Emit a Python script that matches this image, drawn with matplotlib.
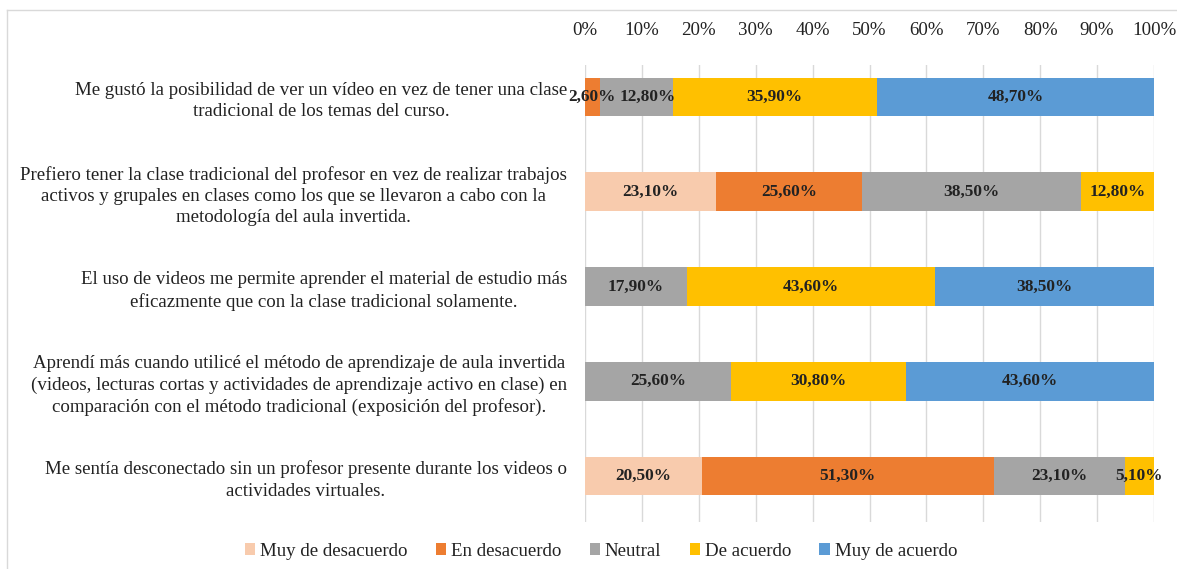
import matplotlib
matplotlib.use("Agg")
import matplotlib.pyplot as plt
from matplotlib.lines import Line2D
from matplotlib.transforms import offset_copy
import numpy as np

categories = [
    "Me gustó la posibilidad de ver un vídeo en vez de tener una clase\ntradicional de los temas del curso.",
    "Prefiero tener la clase tradicional del profesor en vez de realizar trabajos\nactivos y grupales en clases como los que se llevaron a cabo con la\nmetodología del aula invertida.",
    "El uso de videos me permite aprender el material de estudio más\neficazmente que con la clase tradicional solamente.",
    "Aprendí más cuando utilicé el método de aprendizaje de aula invertida\n(videos, lecturas cortas y actividades de aprendizaje activo en clase) en\ncomparación con el método tradicional (exposición del profesor).",
    "Me sentía desconectado sin un profesor presente durante los videos o\nactividades virtuales.",
]
series_names = ["Muy de desacuerdo", "En desacuerdo", "Neutral", "De acuerdo", "Muy de acuerdo"]
muy_desacuerdo = [0.0, 23.1, 0.0, 0.0, 20.5]
en_desacuerdo = [2.6, 25.6, 0.0, 0.0, 51.3]
neutral = [12.8, 38.5, 17.9, 25.6, 23.1]
de_acuerdo = [35.9, 12.8, 43.6, 30.8, 5.1]
muy_acuerdo = [48.7, 0.0, 38.5, 43.6, 0.0]
xtick_values = [0, 10, 20, 30, 40, 50, 60, 70, 80, 90, 100]

colors = ["#F8CBAD", "#ED7D31", "#A5A5A5", "#FFC000", "#5B9BD5"]
series = [muy_desacuerdo, en_desacuerdo, neutral, de_acuerdo, muy_acuerdo]

plt.rcParams['font.family'] = ['Liberation Serif', 'DejaVu Serif']

fig = plt.figure(figsize=(11.77, 5.69), dpi=100)
ax = fig.add_axes([585/1177, 1 - 522/569, (1154 - 585)/1177, (522 - 65)/569])

y = np.arange(len(categories))
left = np.zeros(len(categories))
handles = []
row_texts = {i: [] for i in range(len(categories))}
for name, vals, col in zip(series_names, series, colors):
    vals = np.array(vals)
    b = ax.barh(y, vals, left=left, height=0.41, color=col, label=name, zorder=3)
    handles.append(b)
    for yi, (l, v) in enumerate(zip(left, vals)):
        if v > 0:
            t = ax.text(l + v / 2, yi, f"{v:.2f}%".replace(".", ","), ha="center", va="center",
                        fontsize=12.4, fontweight="bold", color="#222222", zorder=4)
            row_texts[yi].append(t)
    left = left + vals

ax.set_xlim(0, 100)
ax.set_ylim(4.486, -0.338)
ax.set_yticks(y)
ax.set_yticklabels(categories, multialignment="center", fontsize=13.6, color="#222222",
                   linespacing=1.33)
ax.set_xticks(xtick_values)
ax.set_xticklabels([f"{v}%" for v in xtick_values], fontsize=13.6, color="#222222")
ax.xaxis.tick_top()
ax.tick_params(axis="x", length=0, pad=19)
ax.tick_params(axis="y", length=0, pad=13)
ax.grid(axis="x", color="#D9D9D9", linewidth=1, zorder=0)
for s in ax.spines.values():
    s.set_visible(False)

# push apart data labels that would collide (like Excel does)
fig.canvas.draw()
renderer = fig.canvas.get_renderer()
for yi, texts in row_texts.items():
    prev_right = None
    for t in texts:
        bb = t.get_window_extent(renderer)
        if prev_right is not None and bb.x0 < prev_right + 3:
            shift = prev_right + 3 - bb.x0
            t.set_transform(offset_copy(ax.transData, fig=fig, x=shift, y=0, units="dots"))
            bb = t.get_window_extent(renderer)
        prev_right = bb.x1

fig.legend(handles=handles, labels=series_names, loc="center", bbox_to_anchor=(601/1177, 1 - 551/569),
           ncol=5, frameon=False, fontsize=13.6, handlelength=0.55, handleheight=0.55,
           handletextpad=0.25, columnspacing=1.5, labelcolor="#222222")

fig.add_artist(Line2D([7/1177, 1], [1 - 10/569, 1 - 10/569], color="#D9D9D9", linewidth=1, transform=fig.transFigure))
fig.add_artist(Line2D([7/1177, 7/1177], [0, 1 - 10/569], color="#D9D9D9", linewidth=1, transform=fig.transFigure))

fig.savefig("out.png", dpi=100)
